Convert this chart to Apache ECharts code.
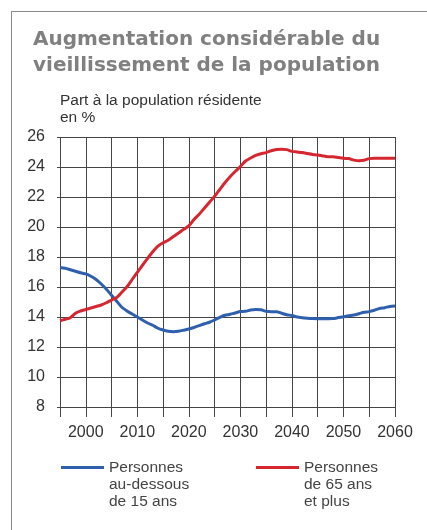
<!DOCTYPE html>
<html>
<head>
<meta charset="utf-8">
<script src="https://cdn.jsdelivr.net/npm/echarts@6/dist/echarts.min.js"></script>
<style>
  html, body { margin: 0; padding: 0; background: #fff; }
  #frame { position: absolute; left: 11px; top: 11px; width: 420px; height: 530px;
           border-left: 1px solid #8a8a8a; border-top: 1px solid #8a8a8a; }
  #chart { position: absolute; left: 0; top: 0; width: 427px; height: 530px; }
</style>
</head>
<body>
<div id="frame"></div>
<div id="chart"></div>
<script>
// Années 1995 - 2060
var years = [];
for (var y = 1995; y <= 2060; y++) years.push(y);

// Personnes au-dessous de 15 ans (%)
var moins15 = [
  17.3, 17.25, 17.15, 17.05, 16.95, 16.87, 16.72, 16.5, 16.2, 15.85,
  15.45, 15.05, 14.65, 14.4, 14.2, 14.0, 13.8, 13.6, 13.45, 13.25,
  13.13, 13.05, 13.02, 13.05, 13.12, 13.2, 13.3, 13.42, 13.55, 13.65,
  13.8, 13.98, 14.12, 14.18, 14.27, 14.36, 14.38, 14.47, 14.5, 14.48,
  14.38, 14.35, 14.35, 14.25, 14.15, 14.1, 14.0, 13.95, 13.92, 13.9,
  13.89, 13.89, 13.89, 13.9, 13.96, 14.02, 14.08, 14.13, 14.22, 14.32,
  14.36, 14.45, 14.57, 14.62, 14.7, 14.73
];

// Personnes de 65 ans et plus (%)
var plus65 = [
  13.75, 13.85, 13.95, 14.25, 14.4, 14.5, 14.6, 14.7, 14.8, 14.95,
  15.13, 15.3, 15.65, 16.02, 16.5, 16.98, 17.45, 17.91, 18.35, 18.72,
  18.95, 19.12, 19.36, 19.6, 19.85, 20.07, 20.5, 20.85, 21.25, 21.65,
  22.05, 22.5, 22.95, 23.35, 23.7, 24.03, 24.4, 24.6, 24.78, 24.88,
  24.96, 25.08, 25.16, 25.18, 25.16, 25.04, 25.0, 24.96, 24.9, 24.84,
  24.8, 24.74, 24.69, 24.68, 24.63, 24.58, 24.56, 24.46, 24.42, 24.45,
  24.56, 24.58, 24.58, 24.58, 24.58, 24.58
];

var noms = ["Personnes\nau-dessous\nde 15 ans", "Personnes\nde 65 ans\net plus"];
var couleurs = ["#2e60ad", "#d6262f"];

function paires(vals) {
  return years.map(function (yr, i) { return [yr, vals[i]]; });
}

var chart = echarts.init(document.getElementById("chart"));
var grille = "#454545";
var police = "Liberation Sans";

chart.setOption({
  animation: false,
  title: [
    {
      text: "Augmentation considérable du\nvieillissement de la population",
      left: 33,
      top: 27,
      padding: 0,
      textStyle: {
        fontFamily: "DejaVu Sans",
        fontWeight: "bold",
        fontSize: 20,
        lineHeight: 26,
        color: "#808080"
      }
    },
    {
      text: "Part à la population résidente\nen %",
      left: 60,
      top: 92,
      padding: 0,
      textStyle: {
        fontFamily: police,
        fontWeight: "normal",
        fontSize: 15.5,
        lineHeight: 17,
        color: "#333"
      }
    }
  ],
  // deux lignes vides en tête : le trait se place face à « Personnes »
  legend: [0, 1].map(function (i) {
    return {
      data: [noms[i]],
      left: i === 0 ? 61 : 256,
      top: 425,
      padding: 0,
      icon: "rect",
      itemWidth: 43,
      itemHeight: 3,
      selectedMode: false,
      formatter: function (name) { return "\n\n" + name; },
      textStyle: {
        fontFamily: police,
        fontSize: 15.5,
        lineHeight: 17,
        color: "#444"
      }
    };
  }),
  grid: { left: 60, right: 32, top: 137, bottom: 123, containLabel: false },
  xAxis: {
    type: "value",
    min: 1995,
    max: 2060,
    interval: 5,
    axisLine: { show: false },
    axisTick: { show: true, length: 10, lineStyle: { color: grille, width: 1 } },
    splitLine: { show: true, lineStyle: { color: grille, width: 1 } },
    axisLabel: {
      margin: 18,
      fontFamily: police,
      fontSize: 16,
      color: "#333",
      formatter: function (v) { return v % 10 === 0 ? String(v) : ""; }
    }
  },
  yAxis: {
    type: "value",
    min: 8,
    max: 26,
    interval: 2,
    axisLine: { show: false },
    axisTick: { show: true, length: 3, lineStyle: { color: grille, width: 1 } },
    splitLine: { show: true, lineStyle: { color: grille, width: 1 } },
    axisLabel: {
      margin: 15,
      fontFamily: police,
      fontSize: 16,
      color: "#333"
    }
  },
  series: [
    {
      name: noms[0],
      type: "line",
      data: paires(moins15),
      showSymbol: false,
      smooth: 0.3,
      lineStyle: { width: 3, color: couleurs[0] },
      itemStyle: { color: couleurs[0] },
      z: 3
    },
    {
      name: noms[1],
      type: "line",
      data: paires(plus65),
      showSymbol: false,
      smooth: 0.3,
      lineStyle: { width: 3, color: couleurs[1] },
      itemStyle: { color: couleurs[1] },
      z: 4
    }
  ]
});
</script>
</body>
</html>
